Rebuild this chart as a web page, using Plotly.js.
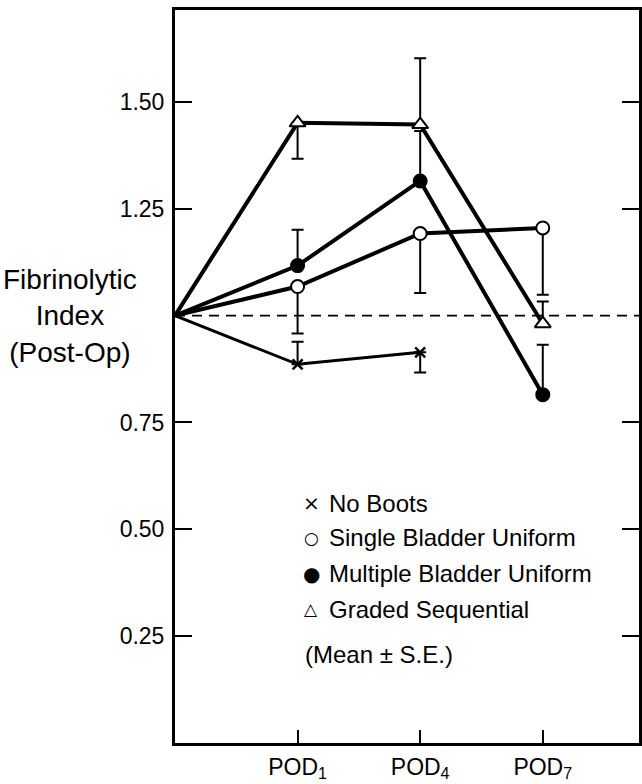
<!DOCTYPE html>
<html>
<head>
<meta charset="utf-8">
<script src="https://cdn.plot.ly/plotly-3.0.1.min.js"></script>
<style>
  html, body { margin: 0; padding: 0; background: #fff; }
  #chart { width: 642px; height: 784px; }
</style>
</head>
<body>
<div id="chart"></div>
<script>
// ---- data ----
const dayPositions = [0, 1, 2, 3];            // baseline, POD1, POD4, POD7
const tickPositions = [1, 2, 3];
const tickLabels = ['POD<sub>1</sub>', 'POD<sub>4</sub>', 'POD<sub>7</sub>'];

const yTickValues = [0.25, 0.5, 0.75, 1.25, 1.5];
const yTickLabels = ['0.25', '0.50', '0.75', '1.25', '1.50'];

const noBootsY      = [1.0, 0.886, 0.914];
const noBootsSEUp   = [null, 0.053, null];
const noBootsSEDown = [null, null, 0.047];

const singleY      = [1.0, 1.068, 1.192, 1.205];
const singleSEUp   = [null, null, null, null];
const singleSEDown = [null, 0.110, 0.139, 0.156];

const multipleY      = [1.0, 1.117, 1.315, 0.815];
const multipleSEUp   = [null, 0.084, 0.117, 0.117];
const multipleSEDown = [null, null, null, null];

const gradedY      = [1.0, 1.451, 1.447, 0.981];
const gradedSEUp   = [null, null, 0.155, 0.052];
const gradedSEDown = [null, 0.084, null, null];

const legendSymbols = ['\u00d7', '\u25cb', '\u25cf', '\u25b3'];
const legendLabels = ['No Boots', 'Single Bladder Uniform', 'Multiple Bladder Uniform', 'Graded Sequential'];
const noteLabel = '(Mean \u00b1 S.E.)';
const yTitleLines = ['Fibrinolytic', 'Index', '(Post-Op)'];

// ---- styling ----
const FONT = 'Liberation Sans, Arial, sans-serif';
const BLACK = '#000';

function series(y, up, down, symbol, fillColor, lineWidth, markerSize) {
  const x = dayPositions.slice(0, y.length);
  const sizes = y.map((v, i) => (i === 0 ? 0 : markerSize));
  // error arrays: both null at the baseline so nothing is drawn there
  const plus = up.map((v, i) => (v === null && down[i] === null ? null : (v === null ? 0 : v)));
  const minus = down.map((v, i) => (v === null && up[i] === null ? null : (v === null ? 0 : v)));
  return {
    type: 'scatter',
    mode: 'lines+markers',
    x: x,
    y: y,
    showlegend: false,
    hoverinfo: 'skip',
    line: { color: BLACK, width: lineWidth },
    marker: {
      symbol: symbol,
      size: sizes,
      opacity: 1,
      color: fillColor,
      line: { color: BLACK, width: 2 }
    },
    error_y: {
      type: 'data',
      symmetric: false,
      array: plus,
      arrayminus: minus,
      color: BLACK,
      thickness: 2,
      width: 6
    },
    cliponaxis: false
  };
}

const traces = [
  series(noBootsY, noBootsSEUp, noBootsSEDown, 'x-thin', BLACK, 3, 10),
  series(singleY, singleSEUp, singleSEDown, 'circle', '#fff', 4, 13),
  series(multipleY, multipleSEUp, multipleSEDown, 'circle', BLACK, 4, 13),
  series(gradedY, gradedSEUp, gradedSEDown, 'triangle-up', '#fff', 4, 14)
];
traces[0].marker.line.width = 2.5;

// legend as annotations (symbol + label rows)
const rowY = [0.3274, 0.2797, 0.2306, 0.1828];
const symbolSizes = [20, 17, 20, 17];
const annotations = [];
legendLabels.forEach((lab, i) => {
  annotations.push({
    xref: 'paper', yref: 'paper', x: 0.294, y: rowY[i],
    xanchor: 'center', yanchor: 'middle', showarrow: false,
    text: legendSymbols[i],
    font: { family: 'DejaVu Sans, sans-serif', size: symbolSizes[i], color: BLACK }
  });
  annotations.push({
    xref: 'paper', yref: 'paper', x: 0.327, y: rowY[i],
    xanchor: 'left', yanchor: 'middle', showarrow: false,
    text: lab,
    font: { family: FONT, size: 24, color: BLACK }
  });
});
annotations.push({
  xref: 'paper', yref: 'paper', x: 0.275, y: 0.1201,
  xanchor: 'left', yanchor: 'middle', showarrow: false,
  text: noteLabel,
  font: { family: FONT, size: 24, color: BLACK }
});
annotations.push({
  xref: 'paper', yref: 'paper', x: -0.227, y: 0.5825,
  xanchor: 'center', yanchor: 'middle', showarrow: false,
  align: 'center',
  text: yTitleLines.join('<br>'),
  font: { family: FONT, size: 28, color: BLACK }
});

const layout = {
  width: 642,
  height: 784,
  margin: { l: 175, r: 3, t: 10, b: 41 },
  paper_bgcolor: '#fff',
  plot_bgcolor: '#fff',
  showlegend: false,
  font: { family: FONT, color: BLACK },
  xaxis: {
    range: [0, 3.785],
    showgrid: false,
    zeroline: false,
    showline: true,
    mirror: true,
    linecolor: BLACK,
    linewidth: 3,
    ticks: 'inside',
    ticklen: 13,
    tickwidth: 2,
    tickcolor: BLACK,
    tickvals: tickPositions,
    ticktext: tickLabels,
    ticklabelstandoff: 1,
    tickfont: { family: FONT, size: 23, color: BLACK }
  },
  yaxis: {
    range: [0, 1.715],
    showgrid: false,
    zeroline: false,
    showline: true,
    mirror: 'ticks',
    linecolor: BLACK,
    linewidth: 3,
    ticks: 'inside',
    ticklen: 17,
    tickwidth: 2,
    tickcolor: BLACK,
    tickvals: yTickValues,
    ticktext: yTickLabels,
    ticklabelstandoff: 3,
    tickfont: { family: FONT, size: 23, color: BLACK }
  },
  shapes: [{
    type: 'line', xref: 'paper', yref: 'y',
    x0: 0, x1: 1, y0: 1.0, y1: 1.0,
    line: { color: BLACK, width: 1.8, dash: '10px,7px' },
    layer: 'below'
  }],
  annotations: annotations
};

Plotly.newPlot('chart', traces, layout, { staticPlot: true, displayModeBar: false });
</script>
</body>
</html>
